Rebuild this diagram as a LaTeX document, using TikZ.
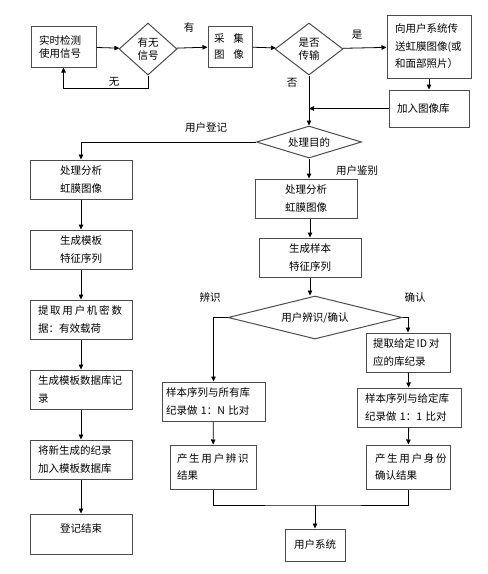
\documentclass[tikz,border=0pt]{standalone}
\usepackage{fontspec}
\setmainfont{Noto Sans CJK SC}
\usetikzlibrary{arrows.meta,shapes.geometric}
\begin{document}
\begin{tikzpicture}[x=1pt, y=-1pt,
  box/.style={draw=black!70, line width=1pt, rectangle, inner xsep=8pt, inner ysep=2pt, align=left, font=\fontsize{10.5}{17.5}\selectfont},
  cbox/.style={box, align=center},
  cond/.style={draw=black!70, line width=1pt, diamond, inner sep=0pt, align=center, font=\fontsize{10.5}{13}\selectfont},
  lbl/.style={inner sep=0pt, font=\fontsize{10.5}{13}\selectfont},
  flow/.style={line width=0.8pt, -{Triangle[length=5pt,width=4.5pt]}},
  link/.style={line width=0.8pt}]
\useasboundingbox (0,0) rectangle (488,574);
\node[box, text width=49pt, minimum height=41pt, font=\fontsize{10.5}{13}\selectfont] (det) at (63.5,46.5) {实时检测\\使用信号};
\node[cond, aspect=1.1, minimum width=58pt, minimum height=52pt] (sig) at (148,49) {有无\\信号};
\node[box, inner xsep=6pt, text width=32pt, minimum height=41pt, font=\fontsize{10.5}{16}\selectfont] (cap) at (230,46.5) {采\hspace{9pt}集\\图\hspace{9pt}像};
\node[cond, aspect=1.3, minimum width=68pt, minimum height=52pt] (trans) at (309,49) {是否\\传输};
\node[box, text width=68pt, minimum height=63pt] (send) at (429,46.5) {向用户系统传\\送虹膜图像(或\\和面部照片）};
\node[box, text width=64pt, minimum height=37pt] (addlib) at (429,108.5) {加入图像库};
\node[cond, aspect=3.3, minimum width=105pt, minimum height=32pt] (purp) at (309,142) {处理目的};
\node[lbl] (yes1) at (189,28) {有};
\node[lbl] (no1) at (114,82) {无};
\node[lbl] (yes2) at (357,35) {是};
\node[lbl] (no2) at (292,83) {否};
\node[lbl] (reg) at (206,128) {用户登记};
\node[lbl] (auth) at (357,171) {用户鉴别};
\node[lbl] (ident) at (210,298) {辨识};
\node[lbl] (conf) at (415,297) {确认};
\node[cbox, text width=86pt, minimum height=39pt] (lproc) at (81,179.5) {处理分析\\虹膜图像};
\node[cbox, text width=86pt, minimum height=39pt] (ltmpl) at (81,249.5) {生成模板\\特征序列};
\node[box, text width=86pt, minimum height=39pt] (lsec) at (81,319.5) {提\,取\,用\,户\,机\,密\,数\\据：有效载荷};
\node[box, text width=86pt, minimum height=39pt] (ldb) at (81,389.5) {生成模板数据库记\\录};
\node[box, text width=86pt, minimum height=39pt] (ladd) at (81,459.5) {将新生成的纪录\\加入模板数据库};
\node[cbox, text width=86pt, minimum height=40pt, text height=8pt, text depth=12pt] (lend) at (81,534) {登记结束};
\node[cbox, text width=86pt, minimum height=39pt] (rproc) at (306,198.5) {处理分析\\虹膜图像};
\node[cbox, text width=86pt, minimum height=39pt] (rsmp) at (310,257.5) {生成样本\\特征序列};
\node[cond, aspect=4, minimum width=174pt, minimum height=43pt] (idc) at (315,317.5) {用户辨识/确认};
\node[box, inner xsep=4pt, text width=95pt, minimum height=39pt] (cmpn) at (213.5,401.5) {样本序列与所有库\\纪录做 1：N 比对};
\node[box, inner xsep=7pt, text width=72pt, minimum height=44pt] (resn) at (213,467) {产\,生\,用\,户\,辨\,识\\结果};
\node[box, inner xsep=7pt, text width=70pt, minimum height=39pt] (fetch) at (408,352.5) {提取给定\,ID\,对\\应的库纪录};
\node[box, text width=88pt, minimum height=39pt] (cmp1) at (409,407.5) {样本序列与给定库\\纪录做 1：1 比对};
\node[box, inner xsep=9pt, text width=66pt, minimum height=44pt] (resc) at (408,467) {产\,生\,用\,户\,身\,份\\确认结果};
\node[cbox, inner xsep=9pt, minimum height=32pt] (usys) at (315,545) {用户系统};
\coordinate (join) at (315,505);
\draw[flow] (det) -- (sig);
\draw[flow] (sig.south) -- ++(0,13) -| (det.south);
\draw[flow] (sig) -- (cap);
\draw[flow] (cap) -- (trans);
\draw[flow] (trans) -- (send);
\draw[flow] (send) -- (addlib);
\draw[flow] (trans.south) -- (purp.north);
\draw[flow] (addlib.west) -- (addlib.west -| purp.north);
\draw[flow] (purp.west) -| (lproc.north);
\draw[flow] (lproc) -- (ltmpl);
\draw[flow] (ltmpl) -- (lsec);
\draw[flow] (lsec) -- (ldb);
\draw[flow] (ldb) -- (ladd);
\draw[flow] (ladd) -- (lend);
\draw[flow] (purp.south) -- (purp.south |- rproc.north);
\draw[flow] (rproc.south -| rsmp.north) -- (rsmp.north);
\draw[flow] (rsmp.south) -- (rsmp.south |- idc.north);
\draw[flow] (idc.west) -| (cmpn.north);
\draw[flow] (idc.east) -| (fetch.north);
\draw[flow] (cmpn) -- (resn);
\draw[flow] (fetch) -- (cmp1);
\draw[flow] (cmp1) -- (resc);
\draw[link] (resn.south) |- (join) -| (resc.south);
\draw[flow] (join) -- (usys);
\end{tikzpicture}
\end{document}
